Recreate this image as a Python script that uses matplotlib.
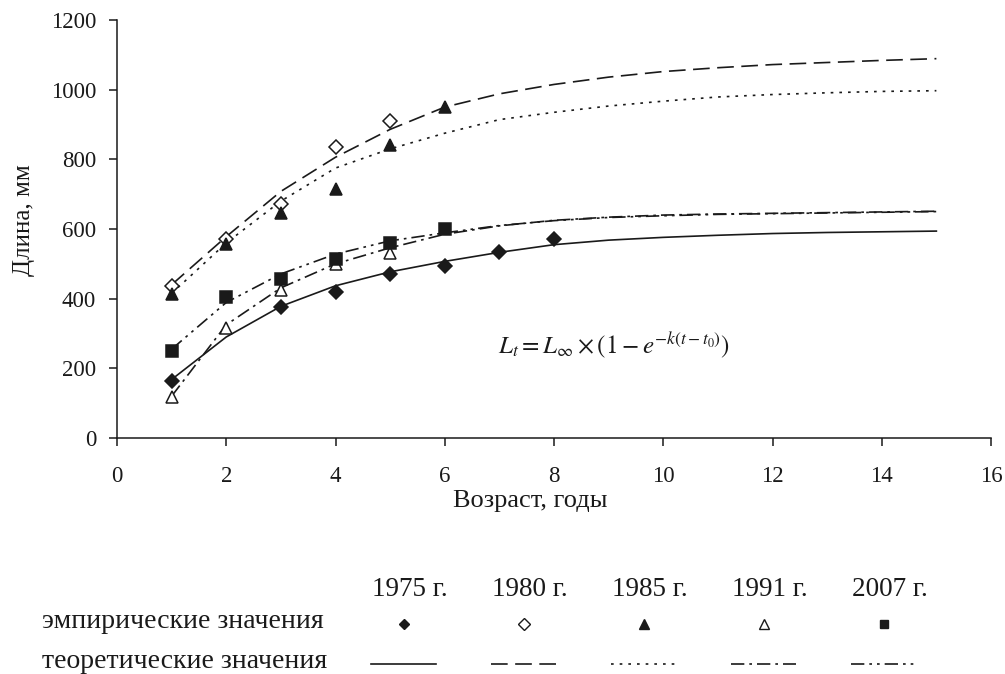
import numpy as np
import matplotlib
matplotlib.use("Agg")
import matplotlib.pyplot as plt
from matplotlib.lines import Line2D

plt.rcParams['font.family'] = ['Liberation Serif', 'DejaVu Serif']
plt.rcParams['mathtext.fontset'] = 'stix'

# --- data ---
years = ["1975 г.", "1980 г.", "1985 г.", "1991 г.", "2007 г."]

# empirical points (age, length mm)
emp_age_1975 = [1, 3, 4, 5, 6, 7, 8]
emp_len_1975 = [163, 377, 420, 471, 494, 533, 571]
emp_age_1980 = [1, 2, 3, 4, 5]
emp_len_1980 = [437, 571, 671, 834, 909]
emp_age_1985 = [1, 2, 3, 4, 5, 6]
emp_len_1985 = [414, 557, 646, 714, 840, 951]
emp_age_1991 = [1, 2, 3, 4, 5]
emp_len_1991 = [117, 317, 426, 500, 531]
emp_age_2007 = [1, 2, 3, 4, 5, 6]
emp_len_2007 = [249, 406, 457, 514, 560, 600]

# theoretical curves at ages 1..15
theo_age = list(range(1, 16))
theo_1975 = [168, 290, 378, 437, 477, 507, 533, 555, 568, 576, 582, 587, 590, 592, 594]
theo_1980 = [440, 578, 708, 806, 886, 950, 988, 1015, 1036, 1052, 1063, 1072, 1078, 1084, 1089]
theo_1985 = [415, 560, 680, 775, 830, 875, 914, 935, 953, 967, 979, 986, 991, 995, 997]
theo_1991 = [120, 325, 431, 500, 546, 585, 609, 625, 634, 640, 643, 645, 647, 649, 651]
theo_2007 = [255, 389, 471, 528, 566, 589, 610, 624, 633, 638, 642, 644, 646, 648, 650]

ink = '#1a1a1a'
lw = 1.2
styles = ['-', (0, (10, 4.5)), (0, (1.6, 3.6)), (0, (8, 3, 1.6, 3)), (0, (8, 3, 1.6, 3, 1.6, 3))]
markers = [('D', ink), ('D', 'white'), ('^', ink), ('^', 'white'), ('s', ink)]
msizes = [7, 7.5, 9, 9, 8]

emp = [(emp_age_1975, emp_len_1975), (emp_age_1980, emp_len_1980), (emp_age_1985, emp_len_1985),
       (emp_age_1991, emp_len_1991), (emp_age_2007, emp_len_2007)]
theo = [theo_1975, theo_1980, theo_1985, theo_1991, theo_2007]

W, H = 1005, 674
fig = plt.figure(figsize=(W / 100, H / 100), dpi=100)
ax = fig.add_axes([117 / W, 1 - 438 / H, (991 - 117) / W, (438 - 20) / H])

for i in range(5):
    ax.plot(theo_age, theo[i], color=ink, lw=lw, linestyle=styles[i])
for i in range(5):
    m, fc = markers[i]
    ax.plot(emp[i][0], emp[i][1], linestyle='none', marker=m, markersize=msizes[i],
            markerfacecolor=fc, markeredgecolor=ink, markeredgewidth=1.1)

ax.set_xlim(0, 16)
ax.set_ylim(0, 1200)
ax.set_xticks(np.arange(0, 17, 2))
ax.set_yticks(np.arange(0, 1201, 200))
ax.spines['top'].set_visible(False)
ax.spines['right'].set_visible(False)
for s in ['left', 'bottom']:
    ax.spines[s].set_color(ink)
    ax.spines[s].set_linewidth(1.1)
ax.tick_params(axis='both', direction='out', length=6, width=1.1, color=ink,
               labelsize=16.5, labelcolor=ink)
ax.tick_params(axis='x', pad=14)
ax.tick_params(axis='y', pad=9)

fig.text(530 / W, 1 - 501 / H, "Возраст, годы", fontsize=19, color=ink,
         ha='center', va='center')
fig.text(24 / W, 1 - 220 / H, "Длина, мм", rotation=90, fontsize=18, color=ink,
         ha='center', va='center')

ax.text(9.1, 263, r'$L_t = L_\infty \times (1 - e^{-k(t-t_0)})$', fontsize=18,
        color=ink, ha='center', va='center')

# --- legend table below the chart ---
col_x = [410, 530, 650, 770, 890]
fig.text(42 / W, 1 - 622 / H, "эмпирические значения", fontsize=20, color=ink, va='center')
fig.text(42 / W, 1 - 661 / H, "теоретические значения", fontsize=20, color=ink, va='center')
for i in range(5):
    cx = col_x[i]
    fig.text(cx / W, 1 - 590 / H, years[i], fontsize=19.5, color=ink, ha='center', va='center')
    m, fc = markers[i]
    fig.add_artist(Line2D([(cx - 6) / W], [1 - 624 / H], linestyle='none', marker=m,
                          markersize=msizes[i] * 0.75, markerfacecolor=fc,
                          markeredgecolor=ink, markeredgewidth=1.0))
    fig.add_artist(Line2D([(cx - 39) / W, (cx + 26) / W], [1 - 664 / H, 1 - 664 / H],
                          color=ink, lw=lw, linestyle=styles[i]))

fig.savefig("out.png", dpi=100)
